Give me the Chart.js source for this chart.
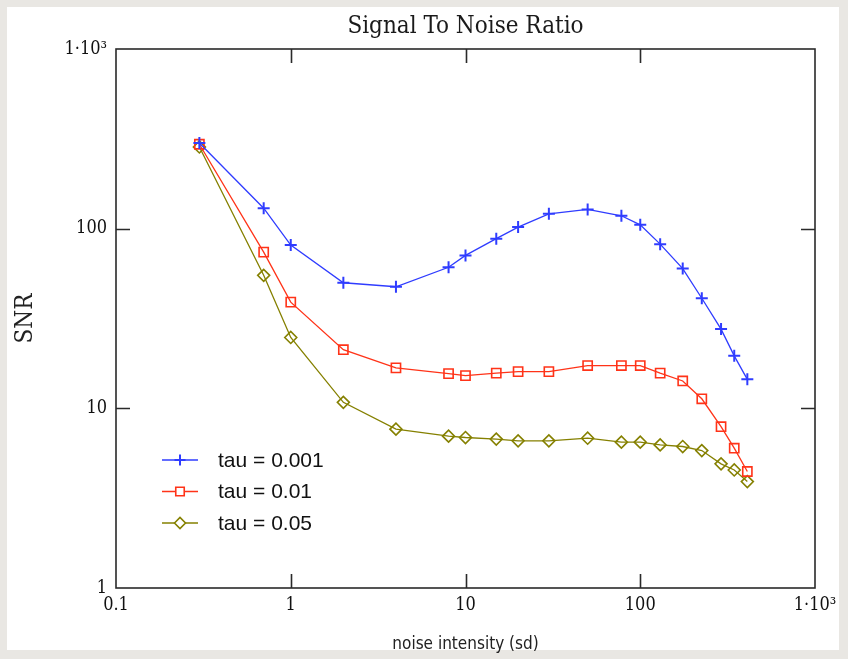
<!DOCTYPE html>
<html>
<head>
<meta charset="utf-8">
<script src="https://cdn.jsdelivr.net/npm/chart.js@4/dist/chart.umd.min.js"></script>
<style>
  html, body { margin: 0; padding: 0; background: #e9e7e3; }
  #wrap { width: 848px; height: 659px; }
</style>
</head>
<body>
<div id="wrap"><canvas id="snr" width="848" height="659"></canvas></div>
<script>
// Noise intensity (sd) at which SNR was evaluated
const noise = [0.3, 0.7, 1, 2, 4, 8, 10, 15, 20, 30, 50, 78, 100, 130, 175, 225, 290, 345, 410];

// SNR for each time constant
const snrTau0001 = [300, 130, 81, 50, 47.5, 61, 71, 88, 102, 121, 128, 118, 105, 82, 60, 41, 27.6, 19.6, 14.5];
const snrTau001  = [295, 74, 39, 21.2, 16.8, 15.6, 15.2, 15.7, 16.0, 16.0, 17.3, 17.3, 17.3, 15.7, 14.2, 11.3, 7.9, 6.0, 4.45];
const snrTau005  = [285, 55, 24.8, 10.8, 7.66, 7.0, 6.88, 6.74, 6.59, 6.59, 6.82, 6.48, 6.48, 6.26, 6.13, 5.82, 4.91, 4.54, 3.91];

const seriesLabels = ['tau = 0.001', 'tau = 0.01', 'tau = 0.05'];

// Decade ticks and their labels
const xTickValues = [0.1, 1, 10, 100, 1000];
const xTickLabels = ['0.1', '1', '10', '100', '1\u00B710\u00B3'];
const yTickValues = [1, 10, 100, 1000];
const yTickLabels = ['1', '10', '100', '1\u00B710\u00B3'];

const toPoints = (ys) => noise.map((x, i) => ({ x: x, y: ys[i] }));

const serifFont = "'DejaVu Serif Condensed', 'Liberation Serif', serif";

// Panel: grey surround with a white card
const panelPlugin = {
  id: 'panel',
  beforeDraw(chart) {
    const ctx = chart.ctx;
    ctx.save();
    ctx.fillStyle = '#e9e7e3';
    ctx.fillRect(0, 0, chart.width, chart.height);
    ctx.fillStyle = '#ffffff';
    ctx.fillRect(7, 7, 832, 643);
    ctx.restore();
  }
};

// Boxed frame with inward-pointing decade ticks on all four sides
const framePlugin = {
  id: 'frame',
  beforeDatasetsDraw(chart) {
    const { ctx, chartArea: a, scales } = chart;
    const len = 14;
    ctx.save();
    ctx.strokeStyle = '#2a2a2a';
    ctx.lineWidth = 1.6;
    ctx.strokeRect(a.left, a.top, a.right - a.left, a.bottom - a.top);
    ctx.beginPath();
    xTickValues.slice(1, -1).forEach(v => {
      const px = Math.round(scales.x.getPixelForValue(v)) + 0.5;
      ctx.moveTo(px, a.bottom); ctx.lineTo(px, a.bottom - len);
      ctx.moveTo(px, a.top); ctx.lineTo(px, a.top + len);
    });
    yTickValues.slice(1, -1).forEach(v => {
      const py = Math.round(scales.y.getPixelForValue(v)) + 0.5;
      ctx.moveTo(a.left, py); ctx.lineTo(a.left + len, py);
      ctx.moveTo(a.right, py); ctx.lineTo(a.right - len, py);
    });
    ctx.stroke();
    ctx.restore();
  }
};

// Legend drawn inside the plot, lower left
const innerLegendPlugin = {
  id: 'innerLegend',
  afterDatasetsDraw(chart) {
    const { ctx, chartArea: a } = chart;
    const x0 = a.left + 46, x1 = a.left + 82, tx = a.left + 102;
    const yStart = a.top + 411, step = 31.5;
    ctx.save();
    chart.data.datasets.forEach((ds, i) => {
      const y = yStart + i * step;
      ctx.strokeStyle = ds.borderColor;
      ctx.lineWidth = 1.5;
      ctx.beginPath();
      ctx.moveTo(x0, y); ctx.lineTo(x1, y);
      ctx.stroke();
      ctx.lineWidth = ds.pointBorderWidth;
      ctx.fillStyle = '#ffffff';
      Chart.helpers.drawPoint(ctx, {
        pointStyle: ds.pointStyle,
        radius: ds.pointRadius - 0.5,
        borderWidth: ds.pointBorderWidth,
        rotation: 0
      }, (x0 + x1) / 2, y);
      ctx.fillStyle = '#111';
      ctx.font = "21px 'Liberation Sans', Arial, sans-serif";
      ctx.textBaseline = 'middle';
      ctx.textAlign = 'left';
      ctx.fillText(ds.label, tx, y + 1);
    });
    ctx.restore();
  }
};

const common = {
  fill: false,
  tension: 0,
  borderWidth: 1.3,
  pointBorderWidth: 1.6,
  pointBackgroundColor: 'rgba(0,0,0,0)'
};

new Chart(document.getElementById('snr'), {
  type: 'line',
  data: {
    datasets: [
      Object.assign({}, common, {
        label: seriesLabels[0],
        data: toPoints(snrTau0001),
        borderColor: '#2f3cff',
        pointBorderColor: '#2f3cff',
        pointBorderWidth: 2,
        pointStyle: 'cross',
        pointRadius: 6
      }),
      Object.assign({}, common, {
        label: seriesLabels[1],
        data: toPoints(snrTau001),
        borderColor: '#ff3318',
        pointBorderColor: '#ff3318',
        pointStyle: 'rect',
        pointRadius: 6.5
      }),
      Object.assign({}, common, {
        label: seriesLabels[2],
        data: toPoints(snrTau005),
        borderColor: '#858000',
        pointBorderColor: '#858000',
        pointStyle: 'rectRot',
        pointRadius: 6
      })
    ]
  },
  options: {
    responsive: false,
    animation: false,
    devicePixelRatio: 1,
    layout: { padding: { left: 8, right: 33, top: 0, bottom: 2 } },
    plugins: {
      legend: { display: false },
      tooltip: { enabled: false },
      title: {
        display: true,
        fullSize: false,
        text: 'Signal To Noise Ratio',
        color: '#1a1a1a',
        font: { family: serifFont, size: 24, weight: 'normal', lineHeight: 1.2 },
        padding: { top: 12, bottom: 8.2 }
      }
    },
    scales: {
      x: {
        type: 'logarithmic',
        min: 0.1,
        max: 1000,
        grid: { display: false, drawTicks: false },
        border: { display: false },
        afterBuildTicks(scale) {
          scale.ticks = xTickValues.map(v => ({ value: v }));
        },
        afterFit(scale) { scale.height = 659 - 588 - 2; },
        ticks: {
          autoSkip: false,
          maxRotation: 0,
          padding: 7,
          color: '#111',
          font: { family: serifFont, size: 18 },
          callback(value) {
            const i = xTickValues.findIndex(v => Math.abs(v - value) / v < 1e-6);
            return i >= 0 ? xTickLabels[i] : '';
          }
        },
        title: {
          display: true,
          text: 'noise intensity (sd)',
          color: '#222',
          font: { family: "'DejaVu Sans Condensed', 'Liberation Sans', sans-serif", size: 17, lineHeight: 1.2 },
          padding: { top: 0, bottom: 2 }
        }
      },
      y: {
        type: 'logarithmic',
        min: 1,
        max: 1000,
        grid: { display: false, drawTicks: false },
        border: { display: false },
        afterBuildTicks(scale) {
          scale.ticks = yTickValues.map(v => ({ value: v }));
        },
        afterFit(scale) { scale.width = 116 - 8; },
        ticks: {
          autoSkip: false,
          padding: 9,
          color: '#111',
          font: { family: serifFont, size: 18 },
          callback(value) {
            const i = yTickValues.findIndex(v => Math.abs(v - value) / v < 1e-6);
            return i >= 0 ? yTickLabels[i] : '';
          }
        },
        title: {
          display: true,
          text: 'SNR',
          color: '#222',
          font: { family: serifFont, size: 24, lineHeight: 1.2 },
          padding: { top: 3, bottom: 0 }
        }
      }
    }
  },
  plugins: [panelPlugin, framePlugin, innerLegendPlugin]
});
</script>
</body>
</html>
